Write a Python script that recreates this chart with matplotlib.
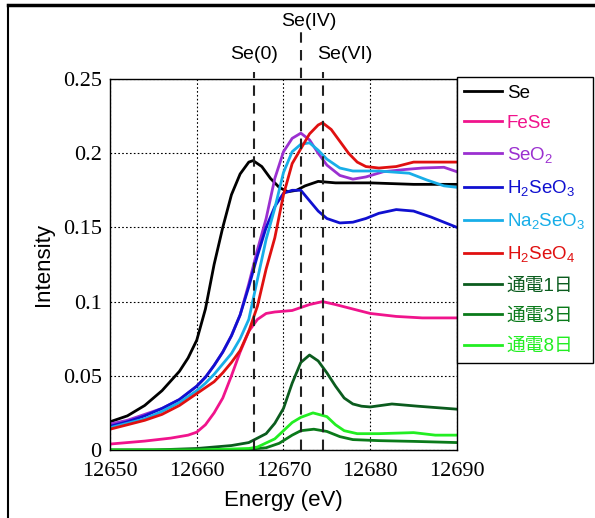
import numpy as np
import matplotlib
matplotlib.use("Agg")
import matplotlib.pyplot as plt
from matplotlib.lines import Line2D

plt.rcParams['font.family'] = ['Liberation Sans', 'Noto Sans CJK JP', 'DejaVu Sans']
plt.rcParams['mathtext.default'] = 'regular'

# Se K-edge XANES spectra
se_E = [12650, 12652, 12654, 12656, 12658, 12659, 12660, 12661, 12662, 12663, 12664, 12665, 12666, 12666.5,
        12667.5, 12668.5, 12669.5, 12670.5, 12671.5, 12672.5, 12674, 12676, 12680, 12685, 12690]
se_I = [0.019, 0.023, 0.030, 0.040, 0.053, 0.062, 0.074, 0.095, 0.125, 0.150, 0.172, 0.186, 0.194, 0.195,
        0.191, 0.183, 0.177, 0.174, 0.175, 0.178, 0.181, 0.180, 0.180, 0.179, 0.179]

fese_E = [12650, 12654, 12657, 12659, 12660, 12661, 12662, 12663, 12664, 12665, 12666, 12667, 12668, 12669,
          12671, 12673, 12674.5, 12676, 12678, 12680, 12683, 12686, 12690]
fese_I = [0.004, 0.006, 0.008, 0.010, 0.012, 0.017, 0.025, 0.035, 0.050, 0.066, 0.080, 0.088, 0.092, 0.093,
          0.094, 0.098, 0.100, 0.098, 0.095, 0.092, 0.090, 0.089, 0.089]

seo2_E = [12650, 12652, 12654, 12656, 12658, 12660, 12661, 12662, 12663, 12664, 12665, 12666, 12667, 12668,
          12669, 12670, 12671, 12672, 12673, 12674, 12675, 12676.5, 12678, 12679.5, 12681.5, 12684, 12686,
          12688.5, 12690]
seo2_I = [0.0175, 0.020, 0.024, 0.028, 0.034, 0.043, 0.049, 0.057, 0.066, 0.077, 0.091, 0.112, 0.135, 0.156,
          0.183, 0.201, 0.210, 0.2135, 0.209, 0.200, 0.192, 0.185, 0.1825, 0.184, 0.1875, 0.189, 0.190,
          0.1905, 0.1875]

h2seo3_E = [12650, 12652, 12654, 12656, 12658, 12660, 12661, 12662, 12663, 12664, 12665, 12666, 12667, 12668,
            12669, 12670, 12671, 12672, 12673, 12674, 12675, 12676.5, 12678, 12679.5, 12681, 12683, 12685,
            12687, 12690]
h2seo3_I = [0.016, 0.019, 0.023, 0.028, 0.034, 0.043, 0.049, 0.057, 0.066, 0.077, 0.091, 0.110, 0.131, 0.150,
            0.164, 0.173, 0.175, 0.175, 0.168, 0.161, 0.156, 0.153, 0.1535, 0.156, 0.1595, 0.162, 0.161,
            0.157, 0.150]

na2seo3_E = [12650, 12652, 12654, 12656, 12658, 12660, 12661, 12662, 12663, 12664, 12665, 12666, 12667, 12668,
             12669, 12670, 12671, 12672, 12673, 12674, 12675, 12676.5, 12678, 12681, 12684.5, 12686.5, 12688.5,
             12690]
na2seo3_I = [0.015, 0.018, 0.021, 0.026, 0.032, 0.040, 0.045, 0.051, 0.058, 0.065, 0.075, 0.088, 0.115, 0.142,
             0.163, 0.187, 0.201, 0.206, 0.207, 0.202, 0.196, 0.190, 0.188, 0.188, 0.1865, 0.182, 0.178, 0.177]

h2seo4_E = [12650, 12652, 12654, 12656, 12658, 12660, 12661, 12662, 12663, 12664, 12665, 12666, 12667, 12668,
            12669, 12670, 12671, 12672, 12673, 12674, 12674.5, 12675.5, 12676.5, 12677.5, 12678.5, 12679.5,
            12681, 12683, 12685, 12687, 12690]
h2seo4_I = [0.014, 0.017, 0.020, 0.024, 0.030, 0.038, 0.042, 0.046, 0.052, 0.059, 0.067, 0.080, 0.097, 0.122,
            0.143, 0.172, 0.193, 0.203, 0.213, 0.219, 0.2205, 0.216, 0.208, 0.200, 0.194, 0.191,
            0.190, 0.191, 0.194, 0.194, 0.194]

day1_E = [12650, 12655, 12660, 12664, 12666, 12667, 12668, 12669, 12670, 12671, 12672, 12673, 12674, 12675,
          12676, 12677, 12678, 12679, 12680, 12682.5, 12685.5, 12690]
day1_I = [0.000, 0.000, 0.001, 0.003, 0.005, 0.008, 0.011, 0.018, 0.028, 0.045, 0.059, 0.064, 0.060, 0.052,
          0.043, 0.035, 0.031, 0.0295, 0.029, 0.031, 0.0295, 0.0275]

day3_E = [12650, 12660, 12666, 12668, 12669.5, 12671, 12672, 12673.5, 12675, 12676.5, 12678, 12681, 12685, 12690]
day3_I = [0.000, 0.000, 0.0005, 0.0015, 0.0045, 0.010, 0.013, 0.014, 0.0125, 0.009, 0.0070, 0.0063, 0.0058, 0.005]

day8_E = [12650, 12660, 12666, 12667, 12669, 12670, 12671, 12672, 12673.4, 12675, 12676, 12677, 12678.5, 12681,
          12685, 12687.5, 12690]
day8_I = [0.000, 0.000, 0.001, 0.002, 0.0075, 0.013, 0.0185, 0.022, 0.025, 0.0225, 0.017, 0.013, 0.011, 0.011,
          0.0117, 0.010, 0.010]

labels = ['Se', 'FeSe', 'SeO$_2$', 'H$_2$SeO$_3$', 'Na$_2$SeO$_3$', 'H$_2$SeO$_4$', '通電1日', '通電3日', '通電8日']
colors = ['black', '#f0148c', '#9b30d0', '#1010d0', '#18aee8', '#e01010', '#0b5c1e', '#0a7a1a', '#22ee22']
series = [(se_E, se_I), (fese_E, fese_I), (seo2_E, seo2_I), (h2seo3_E, h2seo3_I), (na2seo3_E, na2seo3_I),
          (h2seo4_E, h2seo4_I), (day1_E, day1_I), (day3_E, day3_I), (day8_E, day8_I)]

ref_E = [12666.6, 12672.0, 12674.5]
ref_names = ['Se(0)', 'Se(IV)', 'Se(VI)']

fig = plt.figure(figsize=(5.95, 5.18), dpi=100)
ax = fig.add_axes([0.1849, 0.1313, 0.768 - 0.1849, 0.8475 - 0.1313])

for (e, i), lab, c in zip(series, labels, colors):
    ax.plot(e, i, color=c, lw=2, label=lab)

# oxidation state markers
tops = [1.019, 1.127, 1.019]
ax.axvline(ref_E[0], 0, tops[0], color='#222222', lw=1.5, dashes=(5, 3.5), clip_on=False)
ax.axvline(ref_E[1], 0, tops[1], color='#222222', lw=1.5, dashes=(5, 3.5), clip_on=False)
ax.axvline(ref_E[2], 0, tops[2], color='#222222', lw=1.5, dashes=(5, 3.5), clip_on=False)
ax.text(12666.6, 1.065, ref_names[0], transform=ax.get_xaxis_transform(), ha='center', va='center', fontsize=14)
ax.text(12672.9, 1.154, ref_names[1], transform=ax.get_xaxis_transform(), ha='center', va='center', fontsize=14)
ax.text(12677.1, 1.065, ref_names[2], transform=ax.get_xaxis_transform(), ha='center', va='center', fontsize=14)

ax.set_xlim(12650, 12690)
ax.set_ylim(0, 0.25)
ax.set_xticks([12650, 12660, 12670, 12680, 12690])
ax.set_yticks([0, 0.05, 0.1, 0.15, 0.2, 0.25])
ax.set_yticklabels(['0', '0.05', '0.1', '0.15', '0.2', '0.25'])
ax.tick_params(length=0, labelsize=16)
ax.tick_params(axis='x', pad=9)
ax.tick_params(axis='y', pad=6)
for t in ax.get_xticklabels() + ax.get_yticklabels():
    t.set_family('Liberation Serif')
ax.grid(True, color='black', ls=(0, (1.5, 2)), lw=0.8)
for s in ax.spines.values():
    s.set_linewidth(1)

ax.set_xlabel('Energy (eV)', fontsize=16, labelpad=6)
ax.set_ylabel('Intensity', fontsize=16, labelpad=6)

leg = ax.legend(loc='upper left', bbox_to_anchor=(0.768, 0.8514), bbox_transform=fig.transFigure,
                borderaxespad=0, fancybox=False, edgecolor='black', framealpha=1,
                labelcolor='linecolor', handlelength=2.0, handletextpad=0.25, labelspacing=0.7,
                borderpad=0.4, prop={'family': ['Liberation Sans', 'Noto Sans CJK JP'], 'size': 13.5})
leg.get_frame().set_linewidth(1)

# page frame from the original document
fig.add_artist(Line2D([8 / 595, 1], [1 - 5 / 518, 1 - 5 / 518], color='black', lw=2.5))
fig.add_artist(Line2D([8 / 595, 8 / 595], [0, 1 - 5 / 518], color='black', lw=1.5))

fig.savefig('out.png', dpi=100)
